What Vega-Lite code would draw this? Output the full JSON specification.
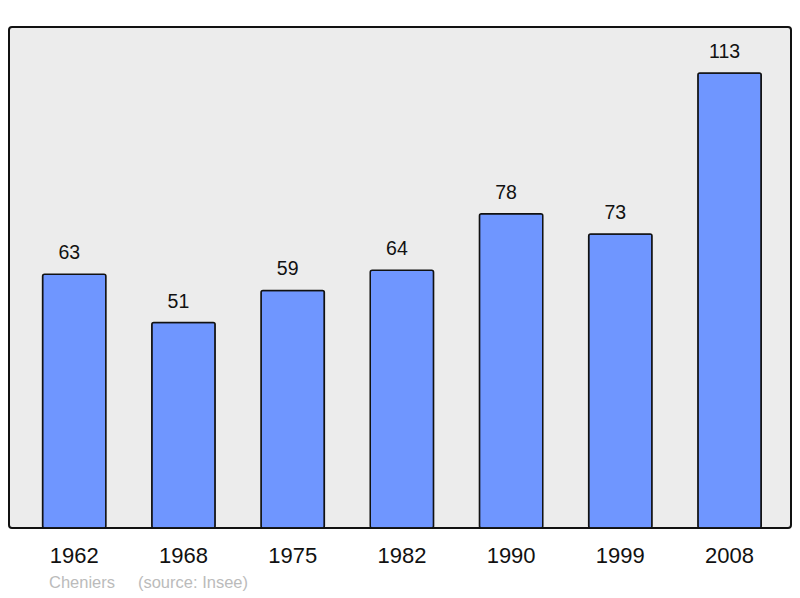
{
  "$schema": "https://vega.github.io/schema/vega-lite/v6.json",
  "width": 782,
  "height": 501,
  "autosize": {"type": "none"},
  "padding": {"left": 9, "top": 27, "right": 9, "bottom": 70},
  "background": "white",
  "config": {
    "font": "Liberation Sans",
    "view": {"fill": "#ececec", "stroke": "#111111", "strokeWidth": 2, "cornerRadius": 3}
  },
  "title": {
    "text": "Cheniers\u00a0\u00a0\u00a0\u00a0\u00a0(source: Insee)",
    "orient": "bottom",
    "anchor": "start",
    "dx": 40,
    "offset": 9,
    "fontSize": 16.5,
    "fontWeight": "normal",
    "color": "#bbbbbb",
    "font": "Liberation Sans"
  },
  "data": {
    "values": [
      {"year": "1962", "pop": 63},
      {"year": "1968", "pop": 51},
      {"year": "1975", "pop": 59},
      {"year": "1982", "pop": 64},
      {"year": "1990", "pop": 78},
      {"year": "1999", "pop": 73},
      {"year": "2008", "pop": 113}
    ]
  },
  "encoding": {
    "x": {
      "field": "year",
      "type": "ordinal",
      "sort": null,
      "scale": {"paddingInner": 0.42, "paddingOuter": 0.29, "align": 0.53},
      "axis": {
        "title": null,
        "domain": false,
        "ticks": false,
        "labelAngle": 0,
        "labelFontSize": 22,
        "labelColor": "#111111",
        "labelPadding": 17,
        "labelBaseline": "top"
      }
    },
    "y": {
      "field": "pop",
      "type": "quantitative",
      "scale": {"domain": [0, 124.4], "nice": false, "zero": true},
      "axis": null
    }
  },
  "layer": [
    {
      "mark": {"type": "bar", "fill": "#6f96ff", "stroke": "#111111", "strokeWidth": 1.5, "cornerRadius": 2}
    },
    {
      "mark": {"type": "text", "baseline": "alphabetic", "dy": -15, "dx": -5, "fontSize": 19.5, "color": "#111111"},
      "encoding": {"text": {"field": "pop", "type": "quantitative"}}
    }
  ]
}
